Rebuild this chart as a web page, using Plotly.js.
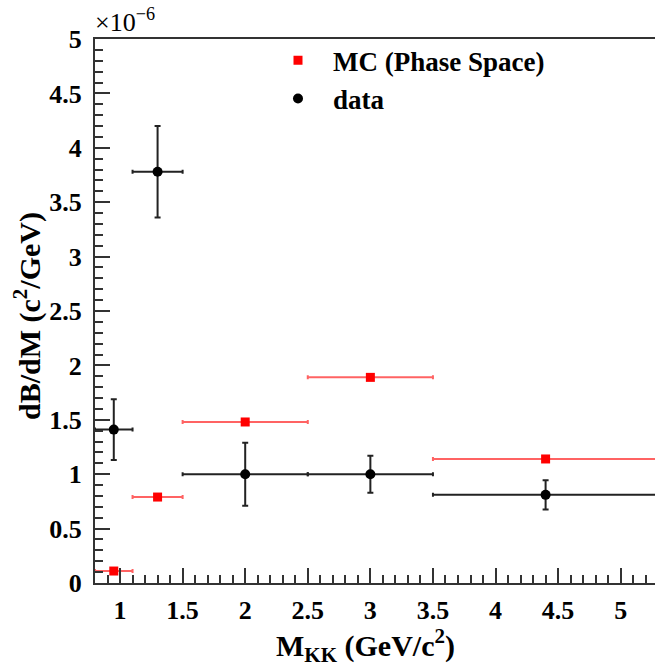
<!DOCTYPE html>
<html><head><meta charset="utf-8">
<script src="https://cdn.plot.ly/plotly-3.0.1.min.js"></script>
<style>html,body{margin:0;padding:0;background:#fff}#plot{width:655px;height:666px}</style>
</head><body><div id="plot"></div>
<script>
// values in units of 1e-6 (c^2/GeV)
const dataX    = [0.95, 1.3, 2.0, 3.0, 4.4];
const dataXErr = [0.15, 0.2, 0.5, 0.5, 0.9];
const dataY    = [1.41, 3.78, 1.00, 1.00, 0.81];
const dataYErr = [0.28, 0.42, 0.29, 0.17, 0.135];

const mcX    = [0.95, 1.3, 2.0, 3.0, 4.4];
const mcXErr = [0.15, 0.2, 0.5, 0.5, 0.9];
const mcY    = [0.11, 0.79, 1.48, 1.89, 1.14];

const yTickVals = [0, 0.5, 1, 1.5, 2, 2.5, 3, 3.5, 4, 4.5, 5];
const yTickText = ["0","0.5","1","1.5","2","2.5","3","3.5","4","4.5","5"];
const xTickVals = [1, 1.5, 2, 2.5, 3, 3.5, 4, 4.5, 5];
const xTickText = ["1","1.5","2","2.5","3","3.5","4","4.5","5"];

const serif = "Liberation Serif, Times New Roman, serif";

const traces = [
  {
    x: mcX, y: mcY, type: "scatter", mode: "markers", name: "MC (Phase Space)",
    marker: {symbol: "square", size: 9, color: "#ff0000"},
    error_x: {type: "data", array: mcXErr, visible: true, color: "rgba(255,60,60,0.8)", thickness: 2, width: 2}
  },
  {
    x: dataX, y: dataY, type: "scatter", mode: "markers", name: "data",
    marker: {symbol: "circle", size: 10, color: "#000000"},
    error_x: {type: "data", array: dataXErr, visible: true, color: "#222", thickness: 2, width: 2},
    error_y: {type: "data", array: dataYErr, visible: true, color: "#222", thickness: 2, width: 3}
  }
];

const layout = {
  width: 655, height: 666,
  margin: {l: 95, r: 0, t: 39, b: 83},
  paper_bgcolor: "#fff", plot_bgcolor: "#fff",
  showlegend: true,
  legend: {
    x: 0.3, y: 1.005, xanchor: "left", yanchor: "top",
    bgcolor: "rgba(0,0,0,0)",
    font: {family: serif, size: 27, color: "#000", weight: "bold"},
    tracegroupgap: 0, itemwidth: 60
  },
  xaxis: {
    range: [0.8, 5.274], showgrid: false, zeroline: false,
    showline: true, linecolor: "#333", linewidth: 2, mirror: true,
    ticks: "inside", ticklen: 15, tickwidth: 2, tickcolor: "#333",
    tickvals: xTickVals, ticktext: xTickText,
    minor: {dtick: 0.1, ticks: "inside", ticklen: 8, tickwidth: 2, tickcolor: "#333", showgrid: false},
    tickfont: {family: serif, size: 26, color: "#000", weight: "bold"},
    ticklabelstandoff: 3
  },
  yaxis: {
    range: [0, 5], showgrid: false, zeroline: false,
    showline: true, linecolor: "#333", linewidth: 2,
    ticks: "inside", ticklen: 15, tickwidth: 2, tickcolor: "#333",
    tickvals: yTickVals, ticktext: yTickText,
    minor: {dtick: 0.1, ticks: "inside", ticklen: 8, tickwidth: 2, tickcolor: "#333", showgrid: false},
    tickfont: {family: serif, size: 26, color: "#000", weight: "bold"},
    ticklabelstandoff: 6
  },
  annotations: [
    {
      xref: "paper", yref: "paper", x: 0, y: 1, xanchor: "left", yanchor: "bottom",
      xshift: -2, yshift: 0,
      text: "×10<sup>−6</sup>", showarrow: false,
      font: {family: serif, size: 26, color: "#000"}
    },
    {
      xref: "paper", yref: "paper", x: (365 - 95) / 560, y: 0, xanchor: "center", yanchor: "middle",
      yshift: -62,
      text: "M<sub>KK</sub> (GeV/c<sup>2</sup>)", showarrow: false,
      font: {family: serif, size: 30, color: "#000", weight: "bold"}
    },
    {
      xref: "paper", yref: "paper", x: 0, y: (583 - 316) / 544, xanchor: "center", yanchor: "middle",
      xshift: -68, textangle: -90,
      text: "dB/dM (c<sup>2</sup>/GeV)", showarrow: false,
      font: {family: serif, size: 30, color: "#000", weight: "bold"}
    }
  ]
};

Plotly.newPlot("plot", traces, layout, {displayModeBar: false, staticPlot: true});
</script></body></html>
